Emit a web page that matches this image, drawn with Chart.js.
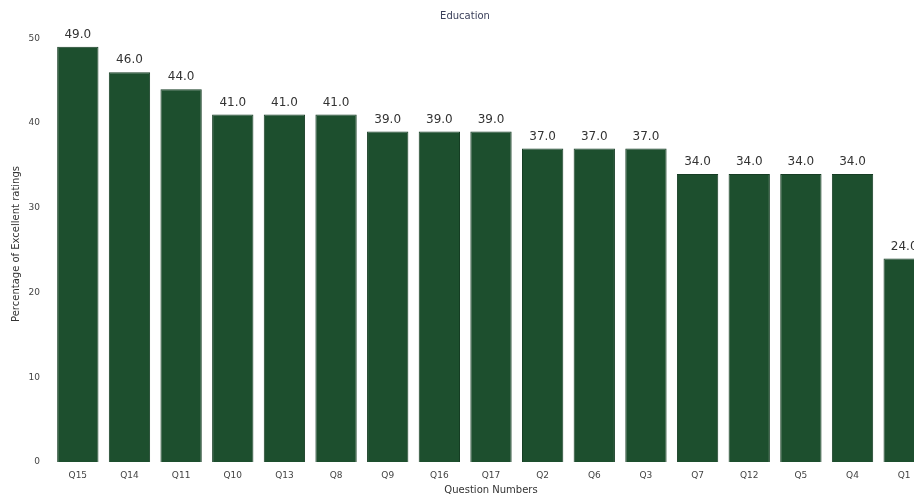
<!DOCTYPE html>
<html>
<head>
<meta charset="utf-8">
<script src="https://cdn.jsdelivr.net/npm/chart.js@4.4.1/dist/chart.umd.min.js"></script>
<style>
  html, body { margin: 0; padding: 0; background: #fff; overflow: hidden; }
  #wrap { width: 930px; height: 498px; }
</style>
</head>
<body>
<div id="wrap"><canvas id="chart" width="930" height="498"></canvas></div>
<script>
// question numbers, sorted by score
const questions = ['Q15', 'Q14', 'Q11', 'Q10', 'Q13', 'Q8', 'Q9', 'Q16', 'Q17', 'Q2', 'Q6', 'Q3', 'Q7', 'Q12', 'Q5', 'Q4', 'Q1'];
const excellentPct = [49, 46, 44, 41, 41, 41, 39, 39, 39, 37, 37, 37, 34, 34, 34, 34, 24];
const yTicks = [0, 10, 20, 30, 40, 50];

// value labels above each bar
const barLabels = {
  id: 'barLabels',
  afterDatasetsDraw(chart) {
    const ctx = chart.ctx;
    const meta = chart.getDatasetMeta(0);
    ctx.save();
    ctx.font = '12px "DejaVu Sans"';
    ctx.fillStyle = '#333';
    ctx.textAlign = 'center';
    ctx.textBaseline = 'bottom';
    meta.data.forEach((bar, i) => {
      ctx.fillText(excellentPct[i].toFixed(1), bar.x, bar.y - 6);
    });
    ctx.restore();
  }
};

const ctx = document.getElementById('chart').getContext('2d');
new Chart(ctx, {
  type: 'bar',
  data: {
    labels: questions,
    datasets: [{
      data: excellentPct,
      backgroundColor: '#1d4f2e',
      borderColor: '#163d24',
      borderWidth: 1,
      barPercentage: 0.8,
      categoryPercentage: 1.0
    }]
  },
  options: {
    responsive: false,
    animation: false,
    layout: { padding: 0 },
    plugins: {
      legend: { display: false },
      tooltip: { enabled: false },
      title: {
        display: true,
        text: 'Education',
        color: '#3a3f5a',
        font: { family: 'DejaVu Sans', size: 10, weight: 'normal' },
        padding: { top: 10, bottom: 4 }
      }
    },
    scales: {
      x: {
        grid: { display: false, drawTicks: false },
        border: { display: false },
        ticks: { color: '#444', font: { family: 'DejaVu Sans', size: 9 }, padding: 8, maxRotation: 0 },
        title: { display: true, text: 'Question Numbers', color: '#333', font: { family: 'DejaVu Sans', size: 10 }, padding: { top: 0, bottom: 2 } },
        afterFit: s => { s.height = 36; }
      },
      y: {
        min: 0,
        max: 51.45,
        grid: { display: false, drawTicks: false },
        border: { display: false },
        afterBuildTicks: s => { s.ticks = yTicks.map(v => ({ value: v })); },
        ticks: { color: '#444', font: { family: 'DejaVu Sans', size: 9 }, padding: 12 },
        title: { display: true, text: 'Percentage of Excellent ratings', color: '#333', font: { family: 'DejaVu Sans', size: 10 }, padding: { top: 10, bottom: 0 } },
        afterFit: s => { s.width = 52; }
      }
    }
  },
  plugins: [barLabels]
});
</script>
</body>
</html>
